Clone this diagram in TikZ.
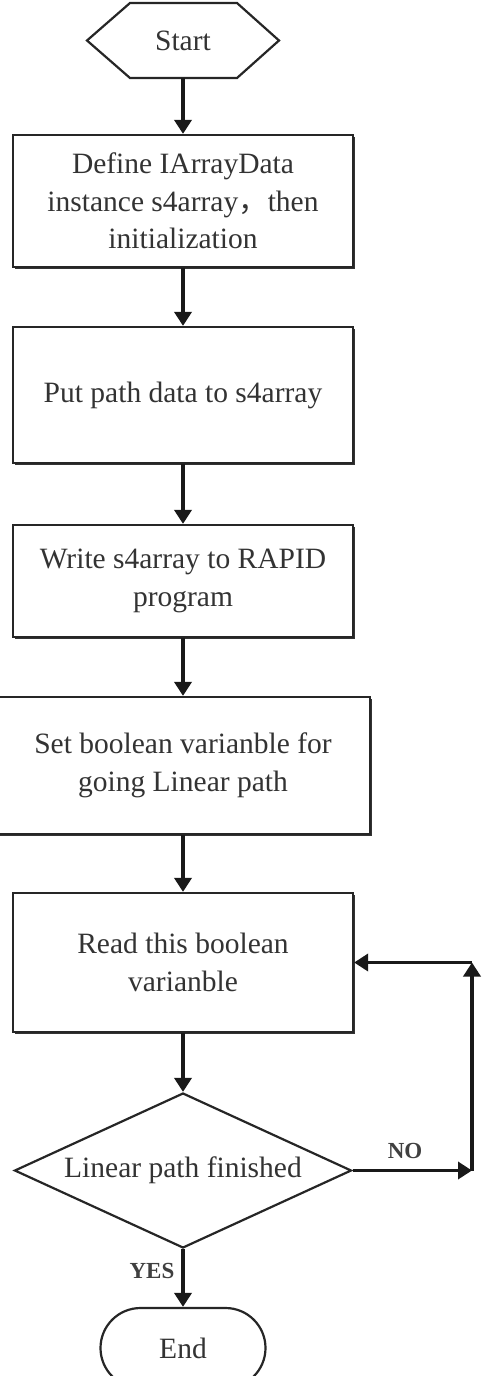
\documentclass[tikz,border=0pt]{standalone}
\usepackage{fontspec}
\setmainfont{Liberation Serif}
\newfontfamily\cjk{Noto Sans CJK SC}
\usetikzlibrary{shapes.geometric,shapes.misc,arrows.meta,shadows}
\begin{document}
\begin{tikzpicture}[x=1pt,y=-1pt,
  every node/.style={text=black!80,font=\fontsize{29.5}{37.5}\selectfont},
  shapeline/.style={draw=black!85,line width=2.2pt},
  boxnode/.style={shapeline,fill=white,rectangle,minimum width=340pt,align=center,inner sep=0pt,
     drop shadow={shadow xshift=2pt,shadow yshift=-2pt,fill=black!80,opacity=1}},
  arr/.style={draw=black!90,line width=3.6pt,-{Triangle[width=17pt,length=14pt]}},
  lbl/.style={font=\fontsize{23}{26}\selectfont\bfseries,text=black!75}]
\useasboundingbox (0,0) rectangle (485,1376);
% Start hexagon
\draw[shapeline,fill=white] (87,40.5) -- (130,3) -- (237,3) -- (279,40.5) -- (237,78) -- (130,78) -- cycle;
\node (start) [minimum width=192pt,minimum height=75pt,inner sep=0pt] at (183,40.5) {Start};
% boxes
\node (b1) [boxnode,minimum height=132pt] at (183,201) {Define IArrayData\\instance s4array{\cjk ，}then\\initialization};
\node (b2) [boxnode,minimum height=136pt] at (183,395) {Put path data to s4array};
\node (b3) [boxnode,minimum height=112pt] at (183,581) {Write s4array to RAPID\\program};
\node (b4) [boxnode,minimum width=374pt,minimum height=137pt] at (183,765.5) {Set boolean varianble for\\going Linear path};
\node (b5) [boxnode,minimum height=139pt] at (183,962.5) {Read this boolean\\varianble};
% decision
\node (dec) [shapeline,fill=white,diamond,aspect=2.17,minimum width=337pt,minimum height=155pt,inner sep=0pt] at (183,1170.5) {Linear path finished};
% end
\node (fin) [shapeline,fill=white,rounded rectangle,minimum width=165pt,minimum height=80pt,inner sep=0pt] at (183,1348) {End};
% connectors
\draw[arr] (start.south) -- (b1.north);
\draw[arr] (b1.south) -- (b2.north);
\draw[arr] (b2.south) -- (b3.north);
\draw[arr] (b3.south) -- (b4.north);
\draw[arr] (b4.south) -- (b5.north);
\draw[arr] (b5.south) -- (dec.north);
\draw[arr] (dec.south) -- (fin.north);
\coordinate (c1) at (472,1170.5);
\coordinate (c2) at (472,962.5);
\draw[arr] (dec.east) -- (c1);
\draw[arr] (c1) -- (c2);
\draw[arr] (c2) -- (b5.east);
% labels
\node (no) [lbl] at (405,1151) {NO};
\node (yes) [lbl] at (152,1271) {YES};
\end{tikzpicture}
\end{document}
